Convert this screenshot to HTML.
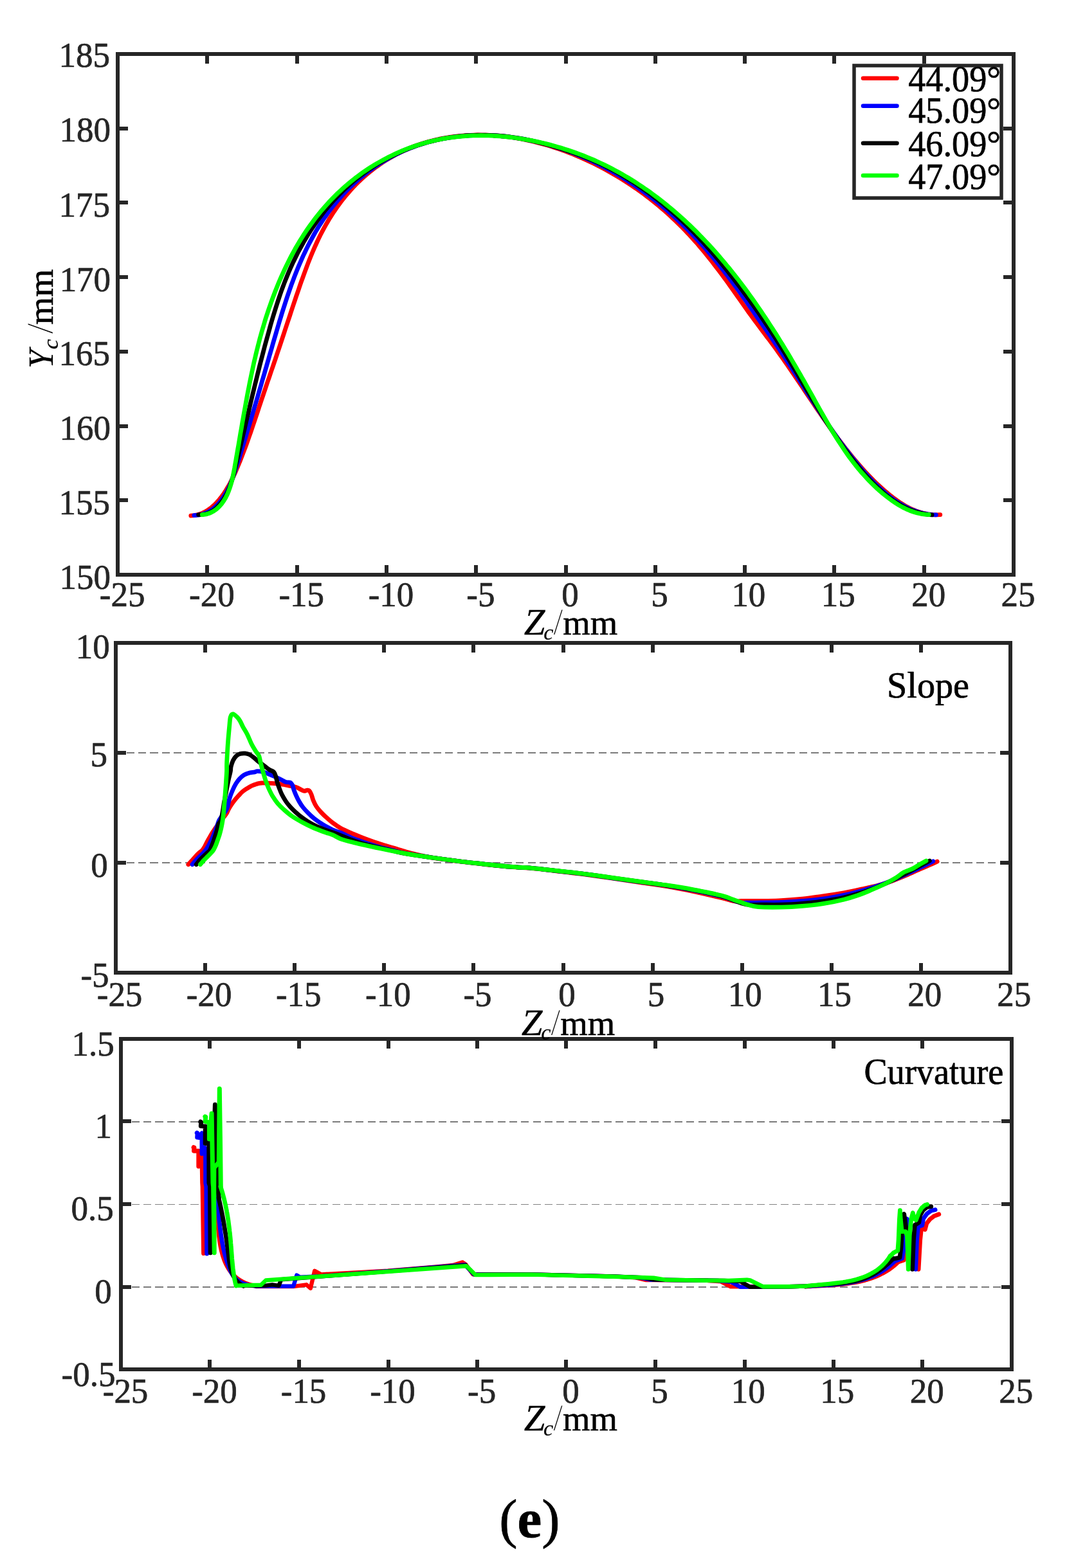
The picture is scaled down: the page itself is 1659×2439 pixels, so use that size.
<!DOCTYPE html>
<html lang="en">
<head>
<meta charset="utf-8">
<title>Figure (e): profile, slope and curvature for 44.09°–47.09°</title>
<style>
html,body{margin:0;padding:0;background:#fff;}
body{width:1659px;height:2439px;overflow:hidden;}
svg{display:block;font-family:'Liberation Serif', 'DejaVu Serif', serif;}
text{white-space:pre;stroke-width:0.7px;stroke-linejoin:round;font-kerning:none;}
</style>
</head>
<body>
<svg width="1659" height="2439" viewBox="0 0 1659 2439">
<rect width="1659" height="2439" fill="#fff"/>
<g id="plot1">
<g class="curve c44_09" fill="none" stroke="#ff0000" stroke-linejoin="round" stroke-linecap="round">
<path d="M296.8 802.2L302.9 801.6L308.7 800.3L314.1 798.4L319.3 795.9L324.1 792.8L328.7 789.4L333.1 785.5L337.2 781.3L341.1 776.9L344.7 772.2L348.2 767.4L351.5 762.3L354.6 757.1L357.6 751.8L360.4 746.3L363.1 740.7L365.7 735.1L368.1 729.4L370.5 723.7L372.9 718.0L375.1 712.3L377.3 706.6L379.5 700.9L381.6 695.2L383.7 689.5L385.7 683.8L387.7 678.2L389.7 672.5L391.6 666.9L393.5 661.2L395.4 655.6L397.3 649.9L399.2 644.3L401.1 638.7L402.9 633.0L404.8 627.4L406.7 621.7L408.6 616.1L410.5 610.4L412.4 604.8L414.3 599.1L416.2 593.5L418.2 587.8L420.1 582.1L422.0 576.5L424.0 570.8L425.9 565.1L427.9 559.4L429.8 553.6L431.7 547.9L433.7 542.2L435.6 536.4L437.5 530.7L439.4 524.9L441.3 519.1L443.2 513.3L445.1 507.5L447.0 501.7L449.0 495.9L450.9 490.1L452.8 484.3L454.7 478.5L456.6 472.7L458.6 466.9L460.5 461.2L462.5 455.4L464.5 449.6L466.4 443.9L468.4 438.2L470.5 432.5L472.5 426.8L474.6 421.1L476.7 415.5L478.8 409.9L481.0 404.3L483.2 398.7L485.5 393.2L487.9 387.7L490.3 382.2L492.8 376.8L495.3 371.4L497.9 366.0L500.7 360.7L503.5 355.4L506.4 350.2L509.4 345.0L512.4 339.8L515.6 334.8L518.9 329.7L522.3 324.8L525.7 319.9L529.3 315.0L532.9 310.3L536.7 305.6L540.6 301.0L544.5 296.5L548.6 292.0L552.7 287.7L557.0 283.4L561.3 279.2L565.8 275.2L570.4 271.2L575.0 267.3L579.8 263.6L584.6 259.9L589.5 256.4L594.5 253.0L599.6 249.7L604.8 246.5L610.1 243.5L615.4 240.5L620.7 237.8L626.2 235.1L631.7 232.6L637.2 230.3L642.8 228.0L648.5 225.9L654.2 224.0L660.0 222.2L665.7 220.5L671.6 219.0L677.4 217.5L683.3 216.2L689.3 215.1L695.2 214.0L701.2 213.1L707.2 212.3L713.2 211.7L719.2 211.1L725.3 210.7L731.3 210.3L737.4 210.1L743.4 210.0L749.5 210.1L755.6 210.2L761.6 210.4L767.7 210.8L773.7 211.2L779.7 211.8L785.7 212.4L791.7 213.2L797.7 214.0L803.6 215.0L809.6 216.0L815.5 217.1L821.4 218.4L827.3 219.7L833.1 221.1L839.0 222.6L844.8 224.2L850.6 225.8L856.4 227.6L862.1 229.4L867.8 231.3L873.5 233.3L879.2 235.4L884.8 237.5L890.4 239.7L896.0 242.0L901.5 244.4L907.1 246.8L912.6 249.3L918.0 251.9L923.5 254.5L928.8 257.2L934.2 260.0L939.5 262.8L944.8 265.7L950.1 268.7L955.3 271.7L960.5 274.8L965.6 277.9L970.7 281.1L975.8 284.4L980.8 287.7L985.8 291.1L990.8 294.5L995.7 298.0L1000.6 301.6L1005.4 305.2L1010.2 308.9L1014.9 312.6L1019.6 316.4L1024.2 320.2L1028.8 324.1L1033.4 328.0L1037.9 332.0L1042.3 336.1L1046.7 340.2L1051.1 344.3L1055.4 348.5L1059.7 352.7L1063.9 357.0L1068.0 361.4L1072.1 365.7L1076.2 370.2L1080.2 374.6L1084.2 379.1L1088.1 383.7L1092.0 388.3L1095.8 392.9L1099.6 397.6L1103.4 402.3L1107.1 407.0L1110.8 411.8L1114.5 416.6L1118.2 421.4L1121.8 426.3L1125.4 431.2L1129.0 436.1L1132.6 441.1L1136.1 446.1L1139.7 451.1L1143.2 456.1L1146.7 461.1L1150.3 466.1L1153.8 471.1L1157.3 476.1L1160.8 481.0L1164.3 486.0L1167.8 490.8L1171.4 495.7L1174.9 500.5L1178.5 505.2L1182.0 510.0L1185.5 514.7L1189.1 519.4L1192.6 524.1L1196.2 528.8L1199.7 533.6L1203.2 538.3L1206.7 543.1L1210.2 547.9L1213.6 552.7L1217.1 557.6L1220.5 562.5L1223.9 567.4L1227.3 572.4L1230.7 577.4L1234.1 582.3L1237.5 587.4L1240.9 592.4L1244.3 597.4L1247.7 602.4L1251.1 607.5L1254.5 612.6L1257.9 617.6L1261.3 622.7L1264.7 627.7L1268.1 632.8L1271.5 637.8L1275.0 642.9L1278.4 647.9L1281.9 652.9L1285.4 657.9L1288.9 662.9L1292.5 667.8L1296.0 672.8L1299.6 677.7L1303.2 682.5L1306.9 687.4L1310.6 692.2L1314.3 697.0L1318.0 701.7L1321.8 706.4L1325.6 711.1L1329.4 715.7L1333.3 720.3L1337.2 724.8L1341.2 729.3L1345.2 733.7L1349.3 738.1L1353.4 742.4L1357.6 746.7L1361.9 750.9L1366.3 755.0L1370.7 759.0L1375.2 763.0L1379.8 766.9L1384.4 770.8L1389.2 774.5L1394.1 778.1L1399.1 781.5L1404.1 784.7L1409.3 787.8L1414.6 790.5L1420.1 793.0L1425.6 795.3L1431.3 797.1L1437.1 798.7L1443.1 799.8L1449.1 800.6L1455.4 800.9L1461.8 800.7" stroke-width="6.8"/>
</g>
<g class="curve c45_09" fill="none" stroke="#0000ff" stroke-linejoin="round" stroke-linecap="round">
<path d="M301.8 801.6L308.5 801.1L314.7 799.8L320.4 797.8L325.6 795.2L330.5 792.0L334.9 788.3L339.0 784.2L342.8 779.8L346.2 775.1L349.4 770.2L352.3 765.1L355.0 759.9L357.5 754.4L359.8 748.8L361.9 743.1L364.0 737.3L365.9 731.5L367.8 725.6L369.6 719.7L371.5 713.9L373.3 708.0L375.1 702.2L376.9 696.3L378.6 690.5L380.4 684.7L382.2 678.9L383.9 673.1L385.6 667.4L387.4 661.6L389.1 655.8L390.8 650.1L392.5 644.3L394.2 638.6L395.9 632.8L397.6 627.1L399.3 621.4L401.0 615.6L402.6 609.9L404.3 604.2L406.0 598.4L407.6 592.7L409.3 587.0L411.0 581.2L412.6 575.5L414.3 569.7L415.9 564.0L417.6 558.2L419.2 552.5L420.9 546.7L422.6 540.9L424.2 535.1L425.9 529.3L427.6 523.5L429.3 517.7L431.0 511.9L432.7 506.1L434.4 500.3L436.2 494.5L437.9 488.7L439.7 482.9L441.6 477.1L443.4 471.4L445.3 465.6L447.2 459.9L449.2 454.1L451.2 448.4L453.2 442.7L455.3 437.1L457.4 431.4L459.6 425.8L461.8 420.2L464.1 414.6L466.5 409.1L468.9 403.6L471.3 398.1L473.9 392.7L476.5 387.2L479.1 381.9L481.9 376.6L484.7 371.3L487.6 366.0L490.5 360.9L493.6 355.7L496.7 350.6L499.9 345.6L503.2 340.6L506.7 335.7L510.1 330.8L513.7 326.0L517.4 321.2L521.2 316.5L525.0 311.9L529.0 307.4L533.0 302.9L537.2 298.5L541.4 294.2L545.7 289.9L550.1 285.8L554.6 281.7L559.2 277.7L563.8 273.9L568.6 270.1L573.4 266.4L578.4 262.8L583.4 259.3L588.4 255.9L593.6 252.7L598.8 249.5L604.0 246.5L609.4 243.6L614.7 240.8L620.1 238.1L625.6 235.5L631.1 233.1L636.7 230.8L642.3 228.7L647.9 226.6L653.5 224.7L659.2 222.9L665.0 221.3L670.7 219.7L676.5 218.3L682.3 217.0L688.1 215.8L693.9 214.8L699.8 213.8L705.7 213.0L711.6 212.3L717.5 211.6L723.5 211.2L729.4 210.8L735.4 210.5L741.4 210.3L747.3 210.3L753.3 210.3L759.3 210.4L765.3 210.7L771.3 211.0L777.3 211.5L783.3 212.0L789.3 212.7L795.3 213.4L801.3 214.3L807.3 215.2L813.2 216.2L819.2 217.4L825.1 218.6L831.1 219.9L837.0 221.3L842.9 222.7L848.8 224.3L854.6 225.9L860.5 227.7L866.3 229.5L872.1 231.4L877.9 233.3L883.6 235.4L889.3 237.5L895.0 239.7L900.6 242.0L906.2 244.3L911.8 246.7L917.3 249.2L922.8 251.8L928.3 254.4L933.7 257.1L939.1 259.9L944.4 262.7L949.7 265.6L955.0 268.6L960.2 271.6L965.3 274.7L970.5 277.8L975.5 281.0L980.6 284.3L985.6 287.6L990.5 291.0L995.5 294.4L1000.3 297.9L1005.2 301.5L1010.0 305.1L1014.7 308.7L1019.4 312.4L1024.1 316.2L1028.7 320.0L1033.3 323.8L1037.8 327.8L1042.3 331.7L1046.8 335.7L1051.2 339.8L1055.6 343.9L1059.9 348.0L1064.2 352.2L1068.5 356.4L1072.7 360.7L1076.9 365.0L1081.0 369.3L1085.1 373.7L1089.1 378.1L1093.1 382.6L1097.1 387.1L1101.0 391.6L1104.9 396.2L1108.8 400.8L1112.6 405.4L1116.4 410.0L1120.1 414.7L1123.8 419.4L1127.5 424.2L1131.2 428.9L1134.8 433.7L1138.4 438.6L1142.0 443.4L1145.6 448.2L1149.1 453.1L1152.6 458.0L1156.1 462.9L1159.6 467.9L1163.0 472.8L1166.5 477.8L1170.0 482.7L1173.4 487.7L1176.9 492.7L1180.4 497.7L1183.9 502.8L1187.4 507.8L1190.9 512.8L1194.4 517.9L1197.9 522.9L1201.3 528.0L1204.8 533.0L1208.2 538.1L1211.6 543.1L1215.0 548.2L1218.3 553.2L1221.7 558.3L1224.9 563.3L1228.2 568.4L1231.5 573.4L1234.7 578.4L1237.9 583.5L1241.1 588.5L1244.3 593.5L1247.5 598.6L1250.7 603.6L1253.8 608.6L1257.0 613.6L1260.2 618.6L1263.4 623.6L1266.6 628.5L1269.8 633.5L1273.0 638.5L1276.3 643.4L1279.5 648.4L1282.8 653.3L1286.1 658.2L1289.5 663.1L1292.8 668.0L1296.2 672.9L1299.7 677.8L1303.1 682.6L1306.6 687.5L1310.2 692.3L1313.8 697.1L1317.4 701.9L1321.1 706.7L1324.9 711.5L1328.7 716.2L1332.5 721.0L1336.4 725.7L1340.4 730.4L1344.5 735.0L1348.6 739.6L1352.8 744.1L1357.0 748.6L1361.4 753.0L1365.8 757.2L1370.3 761.4L1374.9 765.4L1379.5 769.3L1384.3 773.1L1389.1 776.7L1394.1 780.1L1399.1 783.3L1404.2 786.3L1409.5 789.0L1414.8 791.6L1420.3 793.8L1425.8 795.8L1431.5 797.5L1437.3 798.9L1443.2 799.9L1449.2 800.6L1455.4 800.9" stroke-width="6.8"/>
</g>
<g class="curve c46_09" fill="none" stroke="#000000" stroke-linejoin="round" stroke-linecap="round">
<path d="M308.6 800.6L315.2 800.3L321.2 799.0L326.7 796.8L331.7 793.9L336.2 790.3L340.3 786.2L344.0 781.8L347.3 777.1L350.3 772.1L353.0 767.0L355.4 761.6L357.6 756.0L359.6 750.3L361.4 744.5L363.1 738.6L364.6 732.7L366.1 726.7L367.6 720.6L369.0 714.6L370.4 708.6L371.8 702.7L373.2 696.7L374.6 690.8L376.0 684.8L377.4 678.9L378.8 673.0L380.2 667.1L381.5 661.2L382.9 655.3L384.3 649.5L385.7 643.6L387.1 637.7L388.4 631.9L389.8 626.1L391.2 620.2L392.6 614.4L394.0 608.6L395.4 602.8L396.8 597.0L398.3 591.1L399.7 585.3L401.1 579.5L402.6 573.7L404.0 567.9L405.5 562.2L407.0 556.4L408.5 550.6L410.0 544.8L411.5 539.0L413.1 533.2L414.7 527.4L416.3 521.6L417.9 515.8L419.5 510.0L421.1 504.2L422.8 498.4L424.5 492.6L426.3 486.8L428.1 481.0L429.9 475.2L431.8 469.4L433.7 463.7L435.6 458.0L437.6 452.2L439.7 446.5L441.8 440.9L444.0 435.2L446.3 429.6L448.6 424.0L451.0 418.4L453.5 412.9L456.0 407.4L458.7 401.9L461.4 396.5L464.1 391.1L467.0 385.8L469.9 380.5L472.9 375.2L476.0 370.0L479.1 364.8L482.3 359.7L485.6 354.7L489.0 349.6L492.4 344.7L496.0 339.8L499.6 335.0L503.3 330.2L507.0 325.5L510.9 320.9L514.8 316.3L518.8 311.8L522.8 307.4L527.0 303.1L531.2 298.8L535.5 294.6L539.9 290.5L544.4 286.5L549.0 282.5L553.6 278.7L558.3 274.9L563.1 271.3L568.0 267.7L572.9 264.2L578.0 260.8L583.1 257.5L588.2 254.3L593.5 251.2L598.7 248.2L604.1 245.3L609.5 242.6L614.9 239.9L620.4 237.4L626.0 234.9L631.5 232.6L637.1 230.4L642.8 228.3L648.4 226.3L654.2 224.5L659.9 222.7L665.6 221.1L671.4 219.6L677.2 218.2L683.1 216.9L688.9 215.7L694.8 214.7L700.7 213.7L706.6 212.9L712.6 212.2L718.5 211.6L724.5 211.0L730.4 210.7L736.4 210.4L742.4 210.2L748.4 210.1L754.4 210.2L760.4 210.3L766.4 210.6L772.4 211.0L778.5 211.5L784.5 212.0L790.5 212.7L796.5 213.5L802.5 214.4L808.5 215.4L814.4 216.4L820.4 217.6L826.4 218.8L832.3 220.2L838.2 221.6L844.2 223.1L850.1 224.6L855.9 226.3L861.8 228.0L867.6 229.7L873.4 231.6L879.2 233.5L885.0 235.4L890.7 237.4L896.4 239.5L902.1 241.6L907.7 243.8L913.3 246.0L918.9 248.4L924.4 250.8L929.9 253.2L935.4 255.8L940.8 258.4L946.1 261.2L951.5 263.9L956.8 266.8L962.0 269.7L967.2 272.8L972.4 275.8L977.6 279.0L982.6 282.2L987.7 285.5L992.7 288.8L997.7 292.2L1002.6 295.7L1007.5 299.2L1012.4 302.8L1017.2 306.5L1021.9 310.2L1026.6 313.9L1031.3 317.7L1036.0 321.6L1040.6 325.5L1045.1 329.5L1049.6 333.5L1054.1 337.5L1058.5 341.6L1062.9 345.8L1067.2 349.9L1071.5 354.2L1075.7 358.4L1079.9 362.7L1084.1 367.0L1088.2 371.4L1092.3 375.8L1096.3 380.2L1100.3 384.7L1104.3 389.2L1108.2 393.7L1112.1 398.3L1116.0 402.9L1119.8 407.5L1123.6 412.2L1127.4 416.8L1131.1 421.5L1134.9 426.3L1138.6 431.0L1142.3 435.8L1145.9 440.6L1149.6 445.4L1153.2 450.3L1156.8 455.1L1160.4 460.0L1164.0 464.9L1167.5 469.9L1171.1 474.8L1174.6 479.8L1178.1 484.7L1181.5 489.7L1185.0 494.8L1188.4 499.8L1191.8 504.8L1195.2 509.9L1198.5 514.9L1201.9 520.0L1205.2 525.1L1208.4 530.2L1211.7 535.3L1214.9 540.5L1218.1 545.6L1221.3 550.7L1224.4 555.9L1227.5 561.0L1230.7 566.2L1233.7 571.3L1236.8 576.5L1239.9 581.6L1242.9 586.8L1246.0 591.9L1249.0 597.1L1252.1 602.2L1255.1 607.4L1258.2 612.5L1261.3 617.7L1264.3 622.8L1267.4 627.9L1270.5 633.0L1273.6 638.1L1276.8 643.2L1279.9 648.3L1283.1 653.4L1286.3 658.4L1289.6 663.5L1292.8 668.5L1296.1 673.5L1299.5 678.5L1302.9 683.4L1306.3 688.4L1309.8 693.3L1313.3 698.2L1316.9 703.0L1320.5 707.9L1324.2 712.7L1328.0 717.5L1331.8 722.3L1335.6 727.0L1339.6 731.7L1343.6 736.4L1347.7 741.0L1351.8 745.5L1356.0 749.9L1360.4 754.3L1364.7 758.5L1369.2 762.6L1373.8 766.6L1378.4 770.5L1383.2 774.2L1388.0 777.7L1393.0 781.1L1398.0 784.2L1403.2 787.2L1408.5 789.9L1413.9 792.3L1419.4 794.5L1425.0 796.4L1430.8 798.0L1436.8 799.3L1442.8 800.3L1449.1 800.9" stroke-width="6.8"/>
</g>
<g class="curve c47_09" fill="none" stroke="#00ff00" stroke-linejoin="round" stroke-linecap="round">
<path d="M314.4 800.7L320.8 799.8L326.7 797.9L331.9 795.3L336.6 792.0L340.8 788.1L344.6 783.7L347.9 779.1L350.8 774.2L353.4 769.0L355.6 763.6L357.6 758.1L359.3 752.3L360.9 746.5L362.2 740.5L363.4 734.5L364.6 728.4L365.6 722.4L366.7 716.3L367.7 710.2L368.8 704.1L369.8 698.1L370.9 692.1L371.9 686.0L372.9 680.0L373.9 674.0L375.0 668.1L376.0 662.1L377.0 656.1L378.1 650.2L379.1 644.3L380.2 638.3L381.3 632.4L382.3 626.5L383.4 620.6L384.5 614.7L385.6 608.9L386.8 603.0L387.9 597.1L389.1 591.3L390.3 585.4L391.5 579.6L392.8 573.8L394.0 567.9L395.3 562.1L396.7 556.3L398.0 550.5L399.4 544.7L400.9 538.8L402.4 533.0L403.9 527.2L405.5 521.4L407.1 515.6L408.8 509.9L410.5 504.1L412.2 498.3L414.0 492.5L415.9 486.8L417.8 481.0L419.8 475.3L421.8 469.6L423.9 463.9L426.0 458.2L428.2 452.5L430.4 446.9L432.7 441.3L435.1 435.7L437.5 430.1L440.0 424.6L442.5 419.1L445.1 413.6L447.8 408.2L450.5 402.8L453.3 397.4L456.2 392.1L459.1 386.8L462.1 381.6L465.2 376.4L468.4 371.3L471.6 366.2L474.9 361.2L478.2 356.2L481.7 351.2L485.2 346.4L488.8 341.5L492.4 336.8L496.2 332.1L500.0 327.4L503.9 322.9L507.9 318.4L512.0 313.9L516.1 309.6L520.3 305.3L524.6 301.0L529.0 296.9L533.5 292.8L538.0 288.8L542.6 284.9L547.2 281.1L552.0 277.3L556.8 273.7L561.7 270.1L566.6 266.6L571.7 263.2L576.7 259.9L581.9 256.7L587.1 253.6L592.4 250.6L597.7 247.7L603.0 244.9L608.5 242.2L613.9 239.6L619.4 237.1L625.0 234.7L630.6 232.4L636.2 230.2L641.9 228.2L647.6 226.2L653.3 224.4L659.1 222.7L664.9 221.1L670.7 219.6L676.5 218.3L682.3 217.1L688.2 215.9L694.1 214.9L700.0 214.0L705.9 213.3L711.8 212.6L717.8 212.0L723.7 211.6L729.7 211.2L735.6 210.9L741.6 210.8L747.6 210.7L753.6 210.8L759.6 210.9L765.6 211.2L771.6 211.5L777.6 211.9L783.6 212.4L789.6 213.0L795.6 213.7L801.5 214.5L807.5 215.3L813.5 216.3L819.4 217.3L825.4 218.4L831.3 219.6L837.2 220.9L843.2 222.2L849.0 223.6L854.9 225.1L860.8 226.7L866.6 228.4L872.4 230.1L878.2 231.9L884.0 233.8L889.7 235.7L895.4 237.8L901.1 239.9L906.8 242.0L912.4 244.3L918.0 246.6L923.6 249.0L929.1 251.5L934.6 254.0L940.1 256.6L945.5 259.3L950.9 262.1L956.2 264.9L961.5 267.8L966.8 270.7L972.0 273.8L977.1 276.8L982.3 280.0L987.4 283.2L992.4 286.5L997.5 289.8L1002.4 293.2L1007.4 296.6L1012.3 300.1L1017.1 303.7L1021.9 307.3L1026.7 311.0L1031.4 314.7L1036.1 318.5L1040.8 322.3L1045.4 326.2L1050.0 330.1L1054.5 334.0L1059.0 338.1L1063.5 342.1L1067.9 346.2L1072.3 350.3L1076.6 354.5L1080.9 358.7L1085.1 363.0L1089.4 367.3L1093.5 371.6L1097.7 376.0L1101.8 380.4L1105.9 384.8L1109.9 389.3L1113.9 393.8L1117.8 398.3L1121.7 402.9L1125.6 407.4L1129.4 412.1L1133.3 416.7L1137.0 421.4L1140.8 426.1L1144.5 430.8L1148.2 435.5L1151.8 440.3L1155.4 445.1L1159.0 449.9L1162.6 454.8L1166.1 459.7L1169.6 464.6L1173.1 469.5L1176.5 474.4L1179.9 479.4L1183.3 484.3L1186.7 489.3L1190.1 494.4L1193.4 499.4L1196.7 504.5L1200.0 509.5L1203.2 514.6L1206.5 519.7L1209.7 524.8L1212.9 530.0L1216.1 535.1L1219.2 540.3L1222.4 545.5L1225.5 550.6L1228.6 555.8L1231.7 561.1L1234.7 566.3L1237.8 571.5L1240.8 576.8L1243.9 582.0L1246.9 587.3L1249.9 592.5L1252.9 597.8L1255.8 603.1L1258.8 608.4L1261.8 613.7L1264.7 619.0L1267.6 624.3L1270.6 629.6L1273.5 634.9L1276.5 640.1L1279.5 645.4L1282.5 650.6L1285.5 655.9L1288.5 661.1L1291.5 666.3L1294.6 671.4L1297.8 676.6L1300.9 681.6L1304.1 686.7L1307.4 691.7L1310.7 696.7L1314.0 701.6L1317.4 706.5L1320.9 711.4L1324.5 716.1L1328.1 720.9L1331.8 725.5L1335.5 730.1L1339.4 734.7L1343.3 739.1L1347.3 743.5L1351.4 747.9L1355.6 752.1L1359.9 756.3L1364.3 760.4L1368.8 764.4L1373.4 768.3L1378.2 772.1L1383.0 775.8L1388.0 779.4L1393.1 782.8L1398.3 786.1L1403.6 789.1L1409.1 791.8L1414.6 794.2L1420.3 796.3L1426.1 798.0L1432.0 799.3L1438.0 800.1L1444.2 800.5" stroke-width="6.8"/>
</g>
<path d="M322 894V879.2M322 84V98.8M462 894V879.2M462 84V98.8M601 894V879.2M601 84V98.8M740 894V879.2M740 84V98.8M880 894V879.2M880 84V98.8M1019 894V879.2M1019 84V98.8M1158 894V879.2M1158 84V98.8M1297 894V879.2M1297 84V98.8M1437 894V879.2M1437 84V98.8M183 778H199.2M1576 778H1559.8M183 663H199.2M1576 663H1559.8M183 547H199.2M1576 547H1559.8M183 431H199.2M1576 431H1559.8M183 315H199.2M1576 315H1559.8M183 200H199.2M1576 200H1559.8" stroke="#262626" stroke-width="6" fill="none" shape-rendering="crispEdges"/>
<rect x="183" y="84" width="1393" height="810" fill="none" stroke="#262626" stroke-width="6" shape-rendering="crispEdges"/>
<text id="t1" transform="translate(154.83 943.41) scale(0.9550 1)" font-size="55.5" fill="#262626" stroke="#262626">-25</text>
<text id="t2" transform="translate(294.10 943.41) scale(0.9550 1)" font-size="55.5" fill="#262626" stroke="#262626">-20</text>
<text id="t3" transform="translate(433.43 943.41) scale(0.9550 1)" font-size="55.5" fill="#262626" stroke="#262626">-15</text>
<text id="t4" transform="translate(572.70 943.41) scale(0.9550 1)" font-size="55.5" fill="#262626" stroke="#262626">-10</text>
<text id="t5" transform="translate(725.28 943.41) scale(0.9550 1)" font-size="55.5" fill="#262626" stroke="#262626">-5</text>
<text id="t6" transform="translate(873.35 943.41) scale(0.9550 1)" font-size="55.5" fill="#262626" stroke="#262626">0</text>
<text id="t7" transform="translate(1012.14 943.41) scale(0.9550 1)" font-size="55.5" fill="#262626" stroke="#262626">5</text>
<text id="t8" transform="translate(1137.38 943.41) scale(0.9550 1)" font-size="55.5" fill="#262626" stroke="#262626">10</text>
<text id="t9" transform="translate(1276.70 943.41) scale(0.9550 1)" font-size="55.5" fill="#262626" stroke="#262626">15</text>
<text id="t10" transform="translate(1417.14 943.41) scale(0.9550 1)" font-size="55.5" fill="#262626" stroke="#262626">20</text>
<text id="t11" transform="translate(1556.47 943.41) scale(0.9550 1)" font-size="55.5" fill="#262626" stroke="#262626">25</text>
<text id="t12" transform="translate(92.43 916.41) scale(0.9550 1)" font-size="55.5" fill="#262626" stroke="#262626">150</text>
<text id="t13" transform="translate(91.45 799.51) scale(0.9550 1)" font-size="55.5" fill="#262626" stroke="#262626">155</text>
<text id="t14" transform="translate(92.43 684.01) scale(0.9550 1)" font-size="55.5" fill="#262626" stroke="#262626">160</text>
<text id="t15" transform="translate(91.45 568.11) scale(0.9550 1)" font-size="55.5" fill="#262626" stroke="#262626">165</text>
<text id="t16" transform="translate(92.63 452.51) scale(0.9550 1)" font-size="55.5" fill="#262626" stroke="#262626">170</text>
<text id="t17" transform="translate(91.45 336.51) scale(0.9550 1)" font-size="55.5" fill="#262626" stroke="#262626">175</text>
<text id="t18" transform="translate(92.43 220.31) scale(0.9550 1)" font-size="55.5" fill="#262626" stroke="#262626">180</text>
<text id="t19" transform="translate(91.45 104.21) scale(0.9550 1)" font-size="55.5" fill="#262626" stroke="#262626">185</text>
</g>
<g id="plot2">
<line x1="180" y1="1342" x2="1571" y2="1342" stroke="#7a7a7a" stroke-width="2" stroke-dasharray="12.1 6.25" stroke-dashoffset="1.65" shape-rendering="crispEdges"/>
<line x1="180" y1="1171" x2="1571" y2="1171" stroke="#7a7a7a" stroke-width="2" stroke-dasharray="12.1 6.25" stroke-dashoffset="1.65" shape-rendering="crispEdges"/>
<g class="curve c44_09" fill="none" stroke="#ff0000" stroke-linejoin="round" stroke-linecap="round">
<path d="M292.8 1344.7C293.9 1343.5 297.3 1339.9 299.4 1337.6C301.4 1335.3 303.4 1332.8 305.1 1330.9C306.8 1329.0 308.2 1327.6 309.8 1326.2C311.4 1324.8 313.2 1324.0 314.6 1322.4C316.0 1320.8 317.1 1318.9 318.4 1316.7C319.7 1314.5 320.9 1311.5 322.2 1309.1C323.5 1306.7 324.7 1304.7 326.0 1302.5C327.3 1300.3 327.5 1299.4 329.8 1295.8C332.1 1292.2 336.4 1285.9 340.0 1281.0C343.6 1276.1 349.0 1270.1 351.6 1266.4C354.2 1262.7 354.0 1261.3 355.4 1258.8C356.8 1256.3 358.5 1253.6 360.1 1251.2C361.7 1248.8 363.1 1246.8 364.9 1244.6C366.6 1242.4 368.6 1240.2 370.6 1238.0C372.7 1235.8 375.0 1233.2 377.2 1231.3C379.4 1229.4 381.5 1228.1 383.9 1226.6C386.3 1225.1 388.9 1223.5 391.4 1222.3C393.9 1221.1 396.5 1220.1 399.0 1219.4C401.5 1218.7 402.7 1218.2 406.6 1218.0C410.5 1217.8 418.1 1218.2 422.3 1218.4C426.5 1218.6 428.6 1218.6 431.8 1218.9C435.0 1219.2 438.1 1219.9 441.3 1220.5C444.5 1221.1 447.6 1221.8 450.8 1222.5C454.0 1223.2 457.4 1223.4 460.3 1224.4C463.2 1225.4 466.1 1227.4 468.2 1228.4C470.3 1229.4 471.3 1230.3 472.9 1230.4C474.5 1230.5 476.4 1229.3 477.7 1229.2C479.0 1229.1 479.8 1228.9 480.8 1229.9C481.9 1231.0 482.9 1233.0 484.0 1235.5C485.1 1238.0 485.8 1241.8 487.1 1245.0C488.4 1248.2 490.0 1251.6 491.9 1254.5C493.8 1257.4 495.8 1259.8 498.2 1262.4C500.6 1265.0 502.9 1267.4 506.1 1270.3C509.3 1273.2 513.2 1276.8 517.2 1279.8C521.2 1282.8 524.7 1285.5 530.2 1288.5C535.8 1291.5 543.8 1294.7 550.5 1297.6C557.2 1300.5 564.0 1303.2 570.7 1305.7C577.5 1308.2 584.2 1310.6 591.0 1312.8C597.8 1315.0 604.5 1316.8 611.2 1318.8C618.0 1320.8 624.8 1323.0 631.5 1324.9C638.2 1326.8 645.0 1328.5 651.7 1330.0C658.4 1331.5 661.8 1332.6 671.9 1334.2C682.0 1335.8 698.9 1338.0 712.4 1339.7C725.9 1341.4 739.4 1342.8 752.9 1344.3C766.4 1345.8 780.5 1347.3 793.4 1348.4C806.2 1349.5 818.4 1349.8 830.0 1350.8C841.6 1351.8 850.3 1353.0 863.0 1354.5C875.7 1356.0 891.7 1357.8 906.0 1359.7C920.3 1361.6 934.7 1363.6 949.0 1365.7C963.3 1367.8 977.6 1370.1 992.0 1372.2C1006.4 1374.3 1020.7 1376.0 1035.1 1378.4C1049.4 1380.8 1063.8 1383.6 1078.1 1386.6C1092.4 1389.6 1110.3 1393.9 1121.1 1396.5C1131.8 1399.1 1137.3 1401.2 1142.6 1402.0C1147.9 1402.8 1146.2 1401.5 1152.9 1401.4C1159.6 1401.3 1173.3 1401.5 1183.0 1401.4C1192.7 1401.3 1200.2 1401.3 1211.0 1400.8C1221.8 1400.3 1236.0 1399.3 1247.5 1398.2C1259.0 1397.1 1269.0 1395.5 1279.8 1393.9C1290.5 1392.4 1301.2 1390.9 1312.0 1388.9C1322.8 1386.9 1335.3 1384.0 1344.3 1382.0C1353.3 1380.0 1358.6 1379.1 1365.8 1377.1C1373.0 1375.1 1380.1 1372.8 1387.3 1370.2C1394.5 1367.6 1401.6 1364.6 1408.8 1361.6C1416.0 1358.5 1424.2 1354.6 1430.3 1351.9C1436.4 1349.2 1440.9 1347.5 1445.4 1345.5C1449.9 1343.5 1455.2 1341.0 1457.2 1340.1" stroke-width="6.8"/>
</g>
<g class="curve c45_09" fill="none" stroke="#0000ff" stroke-linejoin="round" stroke-linecap="round">
<path d="M298.9 1344.7C299.9 1343.5 303.1 1339.7 305.1 1337.6C307.1 1335.5 308.9 1333.8 310.8 1331.9C312.7 1330.0 314.8 1328.1 316.5 1326.2C318.2 1324.3 319.8 1322.5 321.2 1320.5C322.6 1318.5 323.7 1316.3 325.0 1313.9C326.3 1311.5 327.6 1308.8 328.8 1306.3C330.0 1303.8 331.0 1301.4 332.1 1298.7C333.2 1296.0 334.5 1292.8 335.5 1290.1C336.5 1287.4 337.4 1285.0 338.3 1282.5C339.2 1280.0 338.8 1279.0 341.2 1275.0C343.6 1271.0 350.1 1263.4 352.5 1258.8C354.9 1254.2 354.4 1250.9 355.4 1247.4C356.3 1243.9 357.1 1241.2 358.2 1238.0C359.3 1234.8 360.6 1231.7 362.0 1228.5C363.4 1225.3 365.1 1221.8 366.8 1219.0C368.6 1216.2 370.4 1213.6 372.5 1211.4C374.6 1209.2 376.7 1207.2 379.1 1205.7C381.5 1204.2 383.9 1203.2 386.7 1202.4C389.5 1201.6 393.9 1201.4 396.2 1200.9C398.4 1200.4 397.9 1199.6 400.2 1199.6C402.4 1199.6 406.5 1199.9 409.7 1200.7C412.9 1201.5 416.0 1203.3 419.2 1204.6C422.4 1205.9 425.5 1207.1 428.6 1208.6C431.8 1210.0 435.5 1212.0 438.1 1213.3C440.8 1214.6 442.2 1215.8 444.5 1216.5C446.8 1217.2 449.9 1216.5 451.6 1217.3C453.3 1218.1 453.8 1219.2 454.7 1221.2C455.6 1223.2 456.2 1226.6 457.1 1229.2C458.0 1231.8 459.0 1234.2 460.3 1237.1C461.6 1240.0 463.2 1243.3 465.0 1246.5C466.8 1249.7 468.9 1253.0 471.3 1256.0C473.7 1259.0 476.3 1261.8 479.2 1264.7C482.1 1267.6 485.0 1270.5 488.7 1273.4C492.4 1276.3 496.6 1279.2 501.4 1282.1C506.1 1285.0 512.4 1288.6 517.2 1290.8C522.0 1293.0 524.5 1293.2 530.0 1295.5C535.5 1297.8 543.7 1302.0 550.5 1304.7C557.3 1307.4 564.0 1309.5 570.7 1311.7C577.5 1313.9 584.2 1315.9 591.0 1317.8C597.8 1319.7 604.5 1321.2 611.2 1322.9C618.0 1324.6 621.4 1325.9 631.5 1327.7C641.6 1329.5 658.4 1332.0 671.9 1334.0C685.4 1336.0 698.9 1337.8 712.4 1339.5C725.9 1341.2 739.4 1342.6 752.9 1344.1C766.4 1345.5 780.5 1347.1 793.4 1348.2C806.2 1349.3 818.4 1349.6 830.0 1350.6C841.6 1351.6 850.3 1352.9 863.0 1354.3C875.7 1355.7 891.7 1357.4 906.0 1359.2C920.3 1361.0 934.7 1363.3 949.0 1365.3C963.3 1367.3 977.6 1369.3 992.0 1371.3C1006.4 1373.3 1020.7 1375.0 1035.1 1377.3C1049.4 1379.5 1063.8 1382.0 1078.1 1384.8C1092.4 1387.6 1109.1 1391.2 1121.1 1394.3C1133.1 1397.4 1143.5 1401.8 1150.0 1403.5C1156.5 1405.2 1154.5 1404.1 1160.0 1404.2C1165.5 1404.3 1173.8 1404.1 1183.0 1404.0C1192.2 1403.9 1204.5 1403.9 1215.3 1403.5C1226.0 1403.1 1236.8 1402.3 1247.5 1401.4C1258.2 1400.5 1269.0 1399.7 1279.8 1398.2C1290.5 1396.7 1301.2 1394.7 1312.0 1392.4C1322.8 1390.1 1333.5 1387.3 1344.3 1384.2C1355.1 1381.1 1365.8 1377.8 1376.6 1373.7C1387.3 1369.7 1399.8 1363.9 1408.8 1359.9C1417.8 1355.9 1423.3 1353.2 1430.3 1349.8C1437.3 1346.4 1447.4 1341.4 1450.8 1339.7" stroke-width="6.8"/>
</g>
<g class="curve c46_09" fill="none" stroke="#000000" stroke-linejoin="round" stroke-linecap="round">
<path d="M305.1 1344.7C306.1 1343.5 308.9 1339.7 310.8 1337.6C312.7 1335.5 314.7 1333.7 316.5 1331.9C318.3 1330.2 320.1 1328.5 321.7 1327.1C323.3 1325.7 324.8 1325.0 326.0 1323.3C327.2 1321.6 327.9 1319.1 328.8 1316.7C329.8 1314.3 330.8 1311.8 331.7 1309.1C332.6 1306.4 333.6 1303.6 334.5 1300.6C335.4 1297.6 336.5 1294.3 337.4 1291.1C338.3 1287.9 338.7 1284.1 339.7 1281.6C340.7 1279.1 342.3 1279.2 343.4 1275.9C344.5 1272.6 345.5 1266.1 346.3 1261.7C347.1 1257.3 347.6 1253.0 348.2 1249.3C348.8 1245.6 349.4 1243.3 350.1 1239.8C350.8 1236.3 351.4 1232.8 352.2 1228.5C353.0 1224.2 354.0 1219.0 355.0 1214.2C356.0 1209.5 357.6 1203.6 358.3 1200.0C359.0 1196.4 358.5 1195.6 359.1 1192.8C359.8 1190.0 360.9 1186.1 362.2 1183.3C363.5 1180.5 365.1 1178.0 367.0 1176.2C368.9 1174.4 370.9 1173.2 373.3 1172.5C375.7 1171.8 378.8 1171.7 381.2 1171.9C383.6 1172.1 385.4 1172.5 387.5 1173.5C389.6 1174.5 391.8 1176.2 393.9 1177.8C396.0 1179.4 398.1 1181.6 400.2 1183.3C402.3 1185.0 404.4 1186.4 406.5 1188.0C408.6 1189.6 410.7 1191.2 412.8 1192.8C414.9 1194.4 417.1 1196.2 419.2 1197.5C421.3 1198.8 423.9 1199.1 425.5 1200.7C427.1 1202.3 427.7 1204.4 428.6 1207.0C429.5 1209.6 430.1 1213.3 431.0 1216.5C431.9 1219.7 433.0 1222.8 434.2 1226.0C435.4 1229.2 436.4 1232.1 438.1 1235.5C439.8 1238.9 442.4 1243.3 444.5 1246.5C446.6 1249.7 448.4 1251.8 450.8 1254.5C453.2 1257.2 455.5 1259.5 458.7 1262.4C461.9 1265.3 465.3 1268.5 469.8 1271.8C474.3 1275.1 480.3 1279.2 485.6 1282.1C490.9 1285.0 496.1 1287.1 501.4 1289.2C506.7 1291.3 512.4 1293.1 517.2 1294.8C522.0 1296.5 524.5 1297.4 530.0 1299.6C535.5 1301.8 543.7 1305.3 550.5 1307.7C557.3 1310.1 564.0 1312.0 570.7 1313.8C577.5 1315.6 584.2 1317.2 591.0 1318.8C597.8 1320.4 604.5 1322.0 611.2 1323.5C618.0 1325.0 621.4 1326.2 631.5 1327.9C641.6 1329.7 658.4 1332.1 671.9 1334.0C685.4 1335.9 698.9 1337.8 712.4 1339.5C725.9 1341.2 739.4 1342.6 752.9 1344.1C766.4 1345.5 780.5 1347.1 793.4 1348.2C806.2 1349.3 818.4 1349.6 830.0 1350.6C841.6 1351.6 850.3 1352.9 863.0 1354.3C875.7 1355.7 891.7 1357.4 906.0 1359.2C920.3 1361.0 934.7 1363.1 949.0 1365.1C963.3 1367.1 977.6 1369.1 992.0 1371.1C1006.4 1373.1 1020.7 1374.9 1035.1 1377.1C1049.4 1379.3 1063.8 1381.6 1078.1 1384.4C1092.4 1387.2 1108.3 1390.2 1121.1 1393.7C1133.9 1397.2 1147.2 1403.2 1155.0 1405.5C1162.8 1407.8 1163.3 1407.1 1168.0 1407.4C1172.7 1407.7 1175.1 1407.2 1183.0 1407.2C1190.9 1407.2 1204.5 1407.5 1215.3 1407.2C1226.0 1406.9 1236.8 1406.2 1247.5 1405.3C1258.2 1404.4 1269.0 1403.3 1279.8 1401.8C1290.5 1400.2 1301.2 1398.5 1312.0 1396.0C1322.8 1393.5 1333.5 1390.6 1344.3 1387.0C1355.1 1383.4 1365.8 1379.3 1376.6 1374.5C1387.3 1369.7 1399.8 1363.0 1408.8 1358.4C1417.8 1353.8 1424.2 1350.2 1430.3 1347.0C1436.4 1343.8 1442.9 1340.3 1445.4 1339.0" stroke-width="6.8"/>
</g>
<g class="curve c47_09" fill="none" stroke="#00ff00" stroke-linejoin="round" stroke-linecap="round">
<path d="M311.3 1344.7C312.3 1343.5 315.4 1339.7 317.4 1337.6C319.4 1335.5 321.4 1333.7 323.1 1331.9C324.9 1330.2 326.5 1328.7 327.9 1327.1C329.3 1325.5 330.4 1324.5 331.7 1322.4C333.0 1320.4 334.4 1317.3 335.5 1314.8C336.6 1312.3 337.4 1309.9 338.3 1307.2C339.2 1304.5 340.3 1301.6 341.2 1298.7C342.1 1295.8 342.8 1293.1 343.5 1290.1C344.2 1287.1 344.8 1283.8 345.4 1280.6C346.0 1277.4 346.4 1275.2 346.9 1271.2C347.4 1267.2 347.9 1261.7 348.3 1256.9C348.7 1252.2 349.1 1247.4 349.5 1242.7C349.9 1238.0 350.2 1233.2 350.6 1228.5C351.0 1223.8 351.3 1219.0 351.6 1214.2C351.9 1209.5 352.3 1204.9 352.5 1200.0C352.7 1195.1 352.3 1192.7 352.7 1184.9C353.1 1177.1 353.9 1162.5 354.6 1153.3C355.3 1144.1 356.1 1135.8 356.7 1129.5C357.3 1123.2 357.4 1118.5 358.3 1115.3C359.2 1112.1 360.5 1110.6 362.2 1110.6C363.9 1110.6 366.8 1113.5 368.6 1115.3C370.5 1117.1 371.7 1119.0 373.3 1121.6C374.9 1124.2 376.1 1127.7 378.0 1131.1C379.9 1134.5 382.3 1138.0 384.4 1142.2C386.5 1146.4 388.6 1152.2 390.7 1156.4C392.8 1160.6 395.0 1164.3 397.0 1167.5C399.0 1170.7 401.2 1172.5 402.5 1175.4C403.8 1178.3 404.0 1181.2 404.9 1184.9C405.8 1188.6 406.8 1192.8 408.1 1197.5C409.4 1202.2 411.2 1208.5 412.8 1213.3C414.4 1218.0 415.8 1221.8 417.6 1226.0C419.5 1230.2 421.5 1234.6 423.9 1238.6C426.3 1242.5 428.9 1246.3 431.8 1249.7C434.7 1253.1 437.6 1255.9 441.3 1259.2C445.0 1262.5 449.1 1266.2 453.9 1269.5C458.6 1272.8 464.5 1276.1 469.8 1279.0C475.1 1281.9 480.3 1284.5 485.6 1286.9C490.9 1289.3 496.1 1291.2 501.4 1293.2C506.7 1295.2 512.4 1296.7 517.2 1298.7C522.0 1300.7 524.7 1303.1 530.2 1305.1C535.8 1307.1 540.4 1308.2 550.5 1310.7C560.6 1313.2 577.5 1316.9 591.0 1319.8C604.5 1322.7 618.0 1325.5 631.5 1327.9C645.0 1330.3 658.4 1332.1 671.9 1334.0C685.4 1335.9 698.9 1337.8 712.4 1339.5C725.9 1341.2 739.4 1342.6 752.9 1344.1C766.4 1345.5 780.5 1347.1 793.4 1348.2C806.2 1349.3 818.4 1349.6 830.0 1350.6C841.6 1351.6 850.3 1352.7 863.0 1354.1C875.7 1355.5 891.7 1357.2 906.0 1359.0C920.3 1360.8 934.7 1362.8 949.0 1364.8C963.3 1366.8 977.6 1368.9 992.0 1370.9C1006.4 1372.9 1020.7 1374.6 1035.1 1376.7C1049.4 1378.8 1063.8 1381.1 1078.1 1383.8C1092.4 1386.5 1110.8 1390.2 1121.1 1392.8C1131.4 1395.4 1133.3 1396.9 1140.0 1399.2C1146.7 1401.5 1155.0 1404.9 1161.5 1406.8C1168.0 1408.7 1169.7 1409.9 1178.7 1410.6C1187.7 1411.3 1203.8 1411.3 1215.3 1411.1C1226.8 1410.9 1236.8 1410.3 1247.5 1409.4C1258.2 1408.5 1269.0 1407.4 1279.8 1405.7C1290.5 1404.0 1303.0 1401.4 1312.0 1399.2C1321.0 1397.0 1326.3 1395.3 1333.5 1392.8C1340.7 1390.3 1347.9 1387.2 1355.1 1384.2C1362.3 1381.2 1370.1 1377.7 1376.6 1374.5C1383.0 1371.3 1389.1 1367.7 1393.8 1364.8C1398.5 1361.9 1400.2 1359.6 1404.5 1357.3C1408.8 1355.0 1415.3 1353.1 1419.6 1350.9C1423.9 1348.8 1426.9 1346.4 1430.3 1344.4C1433.7 1342.4 1438.4 1339.9 1440.0 1339.0" stroke-width="6.8"/>
</g>
<path d="M319 1513V1498.2M319 1000V1014.8M458 1513V1498.2M458 1000V1014.8M597 1513V1498.2M597 1000V1014.8M736 1513V1498.2M736 1000V1014.8M876 1513V1498.2M876 1000V1014.8M1015 1513V1498.2M1015 1000V1014.8M1154 1513V1498.2M1154 1000V1014.8M1293 1513V1498.2M1293 1000V1014.8M1432 1513V1498.2M1432 1000V1014.8M180 1342H196.2M1571 1342H1554.8M180 1171H196.2M1571 1171H1554.8" stroke="#262626" stroke-width="6" fill="none" shape-rendering="crispEdges"/>
<rect x="180" y="1000" width="1391" height="513" fill="none" stroke="#262626" stroke-width="6" shape-rendering="crispEdges"/>
<text id="t20" transform="translate(150.73 1565.11) scale(0.9550 1)" font-size="55.5" fill="#262626" stroke="#262626">-25</text>
<text id="t21" transform="translate(289.80 1565.11) scale(0.9550 1)" font-size="55.5" fill="#262626" stroke="#262626">-20</text>
<text id="t22" transform="translate(428.93 1565.11) scale(0.9550 1)" font-size="55.5" fill="#262626" stroke="#262626">-15</text>
<text id="t23" transform="translate(568.00 1565.11) scale(0.9550 1)" font-size="55.5" fill="#262626" stroke="#262626">-10</text>
<text id="t24" transform="translate(720.38 1565.11) scale(0.9550 1)" font-size="55.5" fill="#262626" stroke="#262626">-5</text>
<text id="t25" transform="translate(868.25 1565.11) scale(0.9550 1)" font-size="55.5" fill="#262626" stroke="#262626">0</text>
<text id="t26" transform="translate(1006.84 1565.11) scale(0.9550 1)" font-size="55.5" fill="#262626" stroke="#262626">5</text>
<text id="t27" transform="translate(1131.88 1565.11) scale(0.9550 1)" font-size="55.5" fill="#262626" stroke="#262626">10</text>
<text id="t28" transform="translate(1271.00 1565.11) scale(0.9550 1)" font-size="55.5" fill="#262626" stroke="#262626">15</text>
<text id="t29" transform="translate(1411.24 1565.11) scale(0.9550 1)" font-size="55.5" fill="#262626" stroke="#262626">20</text>
<text id="t30" transform="translate(1550.37 1565.11) scale(0.9550 1)" font-size="55.5" fill="#262626" stroke="#262626">25</text>
<text id="t31" transform="translate(125.38 1535.41) scale(0.9550 1)" font-size="55.5" fill="#262626" stroke="#262626">-5</text>
<text id="t32" transform="translate(141.25 1363.71) scale(0.9550 1)" font-size="55.5" fill="#262626" stroke="#262626">0</text>
<text id="t33" transform="translate(140.54 1192.41) scale(0.9550 1)" font-size="55.5" fill="#262626" stroke="#262626">5</text>
<text id="t34" transform="translate(117.78 1023.81) scale(0.9550 1)" font-size="55.5" fill="#262626" stroke="#262626">10</text>
</g>
<g id="plot3">
<line x1="188" y1="2002" x2="1573" y2="2002" stroke="#7a7a7a" stroke-width="2" stroke-dasharray="12.1 6.25" stroke-dashoffset="1.65" shape-rendering="crispEdges"/>
<line x1="188" y1="1873.5" x2="1573" y2="1873.5" stroke="#808080" stroke-width="1" stroke-dasharray="12.1 6.25" stroke-dashoffset="1.65" shape-rendering="crispEdges"/>
<line x1="188" y1="1744.8" x2="1573" y2="1744.8" stroke="#7a7a7a" stroke-width="2" stroke-dasharray="12.1 6.25" stroke-dashoffset="1.65" shape-rendering="crispEdges"/>
<g class="curve c44_09" fill="none" stroke="#ff0000" stroke-linejoin="round" stroke-linecap="round">
<path d="M301.1 1784.6L302.0 1785.0L301.5 1790.2L308.8 1790.2L308.8 1814.3L314.0 1798.4L314.7 1840.1L315.1 1845.8L316.6 1949.6L315.7 1845.8L320.5 1871.6L328.2 1854.4L336.0 1880.3" stroke-width="7"/>
<path d="M336.0 1880.6L336.5 1883.3L336.9 1886.1L337.3 1888.9L337.7 1891.8L338.0 1894.7L338.3 1897.7L338.6 1900.7L338.8 1903.8L339.1 1906.9L339.3 1910.0L339.6 1913.1L339.9 1916.2L340.2 1919.4L340.5 1922.5L340.9 1925.7L341.3 1928.9L341.8 1932.0L342.3 1935.2L342.8 1938.3L343.5 1941.4L344.1 1944.5L344.9 1947.5L345.7 1950.5L346.5 1953.5L347.5 1956.4L348.5 1959.3L349.6 1962.2L350.8 1964.9L352.1 1967.6L353.5 1970.3L355.0 1972.8L356.6 1975.3L358.3 1977.8L360.2 1980.1L362.2 1982.3L364.2 1984.4L366.4 1986.5L368.7 1988.4L371.1 1990.2L373.6 1991.8L376.2 1993.3L378.9 1994.7L381.7 1996.0L384.6 1997.1L387.5 1998.0L390.6 1998.8L393.8 1999.3L397.0 1999.8L400.3 2000.0" stroke-width="6.8"/>
<path d="M400.0 1999.9L398.1 2001.1L456.3 2001.1L476.5 1998.3L482.8 2003.9L489.2 1976.8L499.3 1982.4L603.0 1976.8L678.9 1970.5L704.2 1968.0L719.4 1963.4L719.0 1963.4L724.0 1966.7L735.4 1982.4L826.5 1982.4L953.0 1985.4L988.4 1987.4L1003.6 1991.0L1100.0 1991.7L1100.6 1992.0L1120.8 1993.3L1136.0 2001.3L1227.1 2001.3L1252.4 2000.6" stroke-width="6.4"/>
<path d="M1252.5 2001.3L1256.5 2001.1L1260.6 2000.9L1264.7 2000.6L1268.8 2000.4L1273.0 2000.2L1277.1 2000.0L1281.3 1999.8L1285.5 1999.5L1289.7 1999.3L1293.9 1999.0L1298.1 1998.7L1302.3 1998.4L1306.5 1998.0L1310.7 1997.6L1314.9 1997.1L1319.1 1996.5L1323.2 1995.9L1327.3 1995.3L1331.5 1994.5L1335.5 1993.7L1339.6 1992.8L1343.6 1991.8L1347.6 1990.7L1351.5 1989.5L1355.4 1988.1L1359.3 1986.7L1363.1 1985.2L1366.8 1983.5L1370.5 1981.7L1374.2 1979.8L1377.7 1977.7L1381.3 1975.5L1384.7 1973.1L1388.1 1970.6L1391.4 1967.9L1394.6 1965.0L1397.7 1962.0" stroke-width="6.5"/>
<path d="M1397.8 1962.4L1405.4 1959.9L1407.3 1947.2L1409.8 1928.3L1412.3 1909.3L1413.3 1905.5L1415.5 1921.9L1419.3 1934.6L1425.6 1934.6L1428.1 1974.4L1430.7 1928.3L1432.6 1910.5L1438.3 1912.4L1440.8 1903.0L1445.8 1896.6L1452.2 1891.6L1459.8 1888.7" stroke-width="6.8"/>
</g>
<g class="curve c45_09" fill="none" stroke="#0000ff" stroke-linejoin="round" stroke-linecap="round">
<path d="M306.3 1762.2L307.1 1762.7L306.7 1769.1L310.1 1769.6L314.0 1762.7L314.0 1794.5L318.9 1785.5L319.6 1798.8L319.8 1840.1L320.9 1845.8L321.7 1950.0L321.1 1845.8L324.8 1863.0L331.6 1845.8L338.5 1863.0" stroke-width="7"/>
<path d="M338.7 1863.4L338.8 1866.3L339.0 1869.1L339.1 1872.0L339.3 1875.0L339.4 1877.9L339.6 1880.9L339.8 1883.9L340.0 1886.9L340.2 1889.9L340.5 1893.0L340.7 1896.1L341.0 1899.1L341.3 1902.2L341.7 1905.3L342.0 1908.4L342.4 1911.5L342.8 1914.7L343.2 1917.8L343.6 1920.9L344.1 1924.0L344.6 1927.1L345.1 1930.2L345.7 1933.3L346.3 1936.4L346.9 1939.4L347.5 1942.5L348.2 1945.5L348.9 1948.5L349.7 1951.5L350.5 1954.4L351.3 1957.4L352.2 1960.3L353.1 1963.2L354.1 1966.0L355.1 1968.8L356.1 1971.6L357.2 1974.3L358.4 1977.0L359.7 1979.5L361.1 1982.0L362.7 1984.4L364.4 1986.7L366.4 1988.8L368.5 1990.8L370.9 1992.6L373.5 1994.2L376.4 1995.7L379.4 1997.0L382.7 1998.0L385.9 1998.8L389.1 1999.4L392.2 1999.7" stroke-width="6.8"/>
<path d="M391.9 1999.5L398.1 2000.6L456.3 2000.6L461.3 1983.6L466.4 1986.7L501.8 1984.9L603.0 1977.3L723.2 1967.2L722.8 1967.2L736.7 1982.4L826.5 1982.4L953.0 1985.4L993.5 1987.2L1011.2 1990.7L1100.0 1991.7L1115.8 1992.0L1136.0 1993.8L1151.2 2001.9L1227.1 2001.3L1252.4 2000.6" stroke-width="6.4"/>
<path d="M1252.4 2001.1L1256.5 2000.8L1260.7 2000.5L1264.8 2000.2L1269.0 2000.0L1273.2 1999.7L1277.4 1999.5L1281.6 1999.2L1285.9 1999.0L1290.1 1998.7L1294.3 1998.4L1298.6 1998.0L1302.8 1997.6L1307.0 1997.2L1311.2 1996.7L1315.4 1996.1L1319.6 1995.5L1323.7 1994.8L1327.9 1994.0L1332.0 1993.2L1336.0 1992.2L1340.0 1991.1L1344.0 1989.9L1348.0 1988.6L1351.8 1987.2L1355.7 1985.7L1359.5 1984.0L1363.2 1982.1L1366.8 1980.2L1370.4 1978.1L1374.0 1975.9L1377.4 1973.5L1380.8 1971.0L1384.1 1968.4L1387.3 1965.6L1390.5 1962.7L1393.5 1959.7" stroke-width="6.5"/>
<path d="M1394.0 1960.5L1402.8 1957.3L1405.4 1940.9L1406.6 1928.3L1409.2 1903.0L1410.4 1896.0L1412.3 1911.8L1415.5 1928.3L1421.8 1928.3L1423.7 1974.4L1425.6 1928.3L1427.5 1908.0L1433.8 1906.1L1435.7 1895.4L1441.4 1887.8L1447.7 1883.3L1454.1 1881.8" stroke-width="6.8"/>
</g>
<g class="curve c46_09" fill="none" stroke="#000000" stroke-linejoin="round" stroke-linecap="round">
<path d="M311.8 1745.0L312.7 1745.4L312.3 1751.5L319.2 1751.9L319.2 1778.6L324.8 1777.7L324.9 1840.1L326.9 1845.8L327.2 1948.7L326.5 1845.8L328.2 1845.8L331.6 1803.6L334.4 1718.3L335.1 1803.6L338.5 1829.4L338.5 1845.8L340.3 1863.0" stroke-width="7"/>
<path d="M339.9 1863.2L340.6 1866.2L341.3 1869.1L342.0 1872.1L342.6 1875.1L343.3 1878.1L343.9 1881.1L344.5 1884.0L345.1 1887.0L345.7 1890.0L346.3 1893.0L346.8 1896.0L347.4 1899.0L347.9 1902.0L348.4 1905.0L348.9 1908.1L349.4 1911.1L349.9 1914.1L350.4 1917.1L350.9 1920.2L351.4 1923.2L351.8 1926.3L352.2 1929.3L352.7 1932.4L353.1 1935.5L353.5 1938.5L353.9 1941.6L354.3 1944.7L354.7 1947.8L355.1 1950.9L355.5 1954.1L355.9 1957.2L356.3 1960.3L356.7 1963.3L357.3 1966.4L357.8 1969.4L358.5 1972.3L359.3 1975.2L360.2 1978.0L361.2 1980.8L362.3 1983.4L363.6 1986.0L365.1 1988.4L366.8 1990.8L368.6 1993.0L370.7 1995.1L373.0 1997.0L375.6 1998.8L378.4 2000.4" stroke-width="6.8"/>
<path d="M379.0 1999.5L398.1 2000.1L413.3 1999.6L423.4 1998.3L433.5 1999.8L437.3 1990.2L501.8 1985.2L603.0 1977.6L724.4 1968.0L724.0 1968.0L738.0 1982.6L826.5 1982.4L953.0 1985.4L998.5 1987.2L1016.3 1990.5L1100.0 1991.7L1125.9 1992.0L1151.2 1993.3L1166.4 2001.9L1227.1 2001.3L1252.4 2000.6" stroke-width="6.4"/>
<path d="M1252.4 2001.0L1256.5 2000.5L1260.5 2000.0L1264.6 1999.6L1268.7 1999.3L1272.8 1999.0L1277.0 1998.7L1281.2 1998.4L1285.3 1998.1L1289.5 1997.8L1293.7 1997.5L1297.9 1997.2L1302.0 1996.8L1306.2 1996.4L1310.3 1996.0L1314.5 1995.4L1318.6 1994.8L1322.6 1994.1L1326.7 1993.4L1330.7 1992.5L1334.7 1991.5L1338.6 1990.4L1342.5 1989.1L1346.3 1987.7L1350.1 1986.1L1353.8 1984.4L1357.4 1982.6L1361.0 1980.5L1364.5 1978.3L1367.9 1976.0L1371.3 1973.6L1374.6 1971.1L1377.7 1968.4L1380.8 1965.7L1383.8 1963.0L1386.7 1960.2L1389.5 1957.5" stroke-width="6.5"/>
<path d="M1390.2 1958.0L1399.0 1956.1L1400.9 1940.9L1402.2 1921.9L1404.7 1890.3L1405.7 1888.4L1407.9 1903.0L1410.4 1921.9L1416.7 1921.9L1418.6 1974.4L1420.5 1928.3L1422.4 1905.5L1428.8 1901.7L1430.7 1890.3L1435.1 1882.7L1441.4 1877.7L1447.7 1876.7" stroke-width="6.8"/>
</g>
<g class="curve c47_09" fill="none" stroke="#00ff00" stroke-linejoin="round" stroke-linecap="round">
<path d="M318.9 1736.8L319.8 1737.3L319.2 1744.6L325.4 1745.9L325.4 1771.7L329.1 1732.1L329.9 1777.7L331.0 1840.1L331.6 1845.8L333.2 1948.7L332.7 1845.8L332.9 1816.5L340.3 1807.9L341.3 1693.5L342.4 1769.1L343.3 1845.8" stroke-width="7"/>
<path d="M342.9 1845.9L343.9 1848.9L344.8 1851.8L345.7 1854.7L346.5 1857.7L347.3 1860.6L348.1 1863.6L348.8 1866.6L349.5 1869.6L350.2 1872.6L350.9 1875.6L351.5 1878.6L352.1 1881.6L352.6 1884.6L353.2 1887.7L353.7 1890.7L354.2 1893.7L354.7 1896.8L355.1 1899.8L355.5 1902.9L355.9 1905.9L356.3 1909.0L356.7 1912.1L357.0 1915.1L357.4 1918.2L357.7 1921.3L358.0 1924.3L358.3 1927.4L358.6 1930.5L358.8 1933.5L359.1 1936.6L359.3 1939.7L359.6 1942.7L359.8 1945.8L360.0 1948.9L360.3 1951.9L360.5 1955.0L360.7 1958.0L361.0 1961.1L361.3 1964.1L361.6 1967.2L361.9 1970.2L362.2 1973.2L362.6 1976.2L363.0 1979.3L363.4 1982.3L363.9 1985.3L364.4 1988.3L365.0 1991.2L365.6 1994.2L366.3 1997.2L367.1 2000.1" stroke-width="6.8"/>
<path d="M368.2 1999.6L369.0 1999.6L405.7 1998.8L413.3 1991.5L724.4 1969.2L725.3 1969.2L739.2 1983.1L826.5 1982.6L953.0 1985.7L1016.3 1987.7L1034.0 1990.7L1100.0 1991.7L1133.5 1992.0L1161.3 1990.7L1166.4 1991.5L1186.6 2001.3L1227.1 2001.3L1252.4 2000.6" stroke-width="6.4"/>
<path d="M1252.6 2000.6L1256.5 2000.1L1260.5 1999.7L1264.5 1999.3L1268.6 1998.9L1272.7 1998.6L1276.9 1998.2L1281.1 1997.8L1285.3 1997.4L1289.6 1997.0L1293.8 1996.6L1298.1 1996.1L1302.3 1995.6L1306.6 1995.0L1310.8 1994.4L1315.0 1993.7L1319.2 1992.9L1323.3 1992.1L1327.4 1991.1L1331.4 1990.1L1335.4 1988.9L1339.4 1987.6L1343.2 1986.2L1347.0 1984.7L1350.7 1983.0L1354.3 1981.2L1357.9 1979.2L1361.3 1977.1L1364.6 1974.8L1367.8 1972.3L1370.9 1969.6L1373.8 1966.7L1376.7 1963.6L1379.4 1960.3L1381.9 1956.8L1384.3 1953.1" stroke-width="6.5"/>
<path d="M1384.5 1953.6L1389.5 1948.5L1395.9 1945.3L1397.1 1928.3L1398.4 1896.6L1399.4 1882.7L1400.3 1896.6L1402.2 1915.6L1407.9 1915.6L1410.4 1921.9L1412.3 1974.4L1414.2 1921.9L1416.7 1896.6L1419.3 1886.5L1421.2 1895.4L1424.3 1897.9L1428.8 1885.9L1433.2 1878.9L1438.3 1874.5L1441.7 1873.5" stroke-width="6.8"/>
</g>
<path d="M326 2130V2115.2M326 1616V1630.8M465 2130V2115.2M465 1616V1630.8M604 2130V2115.2M604 1616V1630.8M742 2130V2115.2M742 1616V1630.8M880 2130V2115.2M880 1616V1630.8M1019 2130V2115.2M1019 1616V1630.8M1158 2130V2115.2M1158 1616V1630.8M1296 2130V2115.2M1296 1616V1630.8M1434 2130V2115.2M1434 1616V1630.8M188 2002H204.2M1573 2002H1556.8M188 1873H204.2M1573 1873H1556.8M188 1744H204.2M1573 1744H1556.8" stroke="#262626" stroke-width="6" fill="none" shape-rendering="crispEdges"/>
<rect x="188" y="1616" width="1385" height="514" fill="none" stroke="#262626" stroke-width="6" shape-rendering="crispEdges"/>
<text id="t35" transform="translate(159.73 2182.21) scale(0.9550 1)" font-size="55.5" fill="#262626" stroke="#262626">-25</text>
<text id="t36" transform="translate(298.20 2182.21) scale(0.9550 1)" font-size="55.5" fill="#262626" stroke="#262626">-20</text>
<text id="t37" transform="translate(436.73 2182.21) scale(0.9550 1)" font-size="55.5" fill="#262626" stroke="#262626">-15</text>
<text id="t38" transform="translate(575.20 2182.21) scale(0.9550 1)" font-size="55.5" fill="#262626" stroke="#262626">-10</text>
<text id="t39" transform="translate(726.98 2182.21) scale(0.9550 1)" font-size="55.5" fill="#262626" stroke="#262626">-5</text>
<text id="t40" transform="translate(874.25 2182.21) scale(0.9550 1)" font-size="55.5" fill="#262626" stroke="#262626">0</text>
<text id="t41" transform="translate(1012.24 2182.21) scale(0.9550 1)" font-size="55.5" fill="#262626" stroke="#262626">5</text>
<text id="t42" transform="translate(1136.68 2182.21) scale(0.9550 1)" font-size="55.5" fill="#262626" stroke="#262626">10</text>
<text id="t43" transform="translate(1275.20 2182.21) scale(0.9550 1)" font-size="55.5" fill="#262626" stroke="#262626">15</text>
<text id="t44" transform="translate(1414.84 2182.21) scale(0.9550 1)" font-size="55.5" fill="#262626" stroke="#262626">20</text>
<text id="t45" transform="translate(1553.37 2182.21) scale(0.9550 1)" font-size="55.5" fill="#262626" stroke="#262626">25</text>
<text id="t46" transform="translate(95.60 2156.16) scale(0.9550 1)" font-size="55.5" fill="#262626" stroke="#262626">-0.5</text>
<text id="t47" transform="translate(147.25 2027.11) scale(0.9550 1)" font-size="55.5" fill="#262626" stroke="#262626">0</text>
<text id="t48" transform="translate(110.40 1898.16) scale(0.9550 1)" font-size="55.5" fill="#262626" stroke="#262626">0.5</text>
<text id="t49" transform="translate(147.61 1770.05) scale(0.9550 1)" font-size="55.5" fill="#262626" stroke="#262626">1</text>
<text id="t50" transform="translate(111.58 1642.16) scale(0.9550 1)" font-size="55.5" fill="#262626" stroke="#262626">1.5</text>
</g>
<text id="t51" transform="translate(815.40 987.00)" fill="#000" stroke="#000"><tspan x="-0.57" y="0.00" font-size="56.5" textLength="32.73" lengthAdjust="spacingAndGlyphs" stroke-width="0.3" font-style="italic">Z</tspan><tspan x="29.74" y="7.50" font-size="33" textLength="15.22" lengthAdjust="spacingAndGlyphs" stroke-width="0.2" font-style="italic">c</tspan><tspan x="44.80" y="0.00" font-size="59" textLength="15.20" lengthAdjust="spacingAndGlyphs" stroke-width="1.2" stroke="#fff">/</tspan><tspan x="59.85" y="0.00" font-size="55" textLength="84.90" lengthAdjust="spacingAndGlyphs" stroke-width="0.6">mm</tspan></text>
<text id="t52" transform="translate(811.40 1609.80)" fill="#000" stroke="#000"><tspan x="-0.57" y="0.00" font-size="56.5" textLength="32.73" lengthAdjust="spacingAndGlyphs" stroke-width="0.3" font-style="italic">Z</tspan><tspan x="29.74" y="7.50" font-size="33" textLength="15.22" lengthAdjust="spacingAndGlyphs" stroke-width="0.2" font-style="italic">c</tspan><tspan x="44.80" y="0.00" font-size="59" textLength="15.20" lengthAdjust="spacingAndGlyphs" stroke-width="1.2" stroke="#fff">/</tspan><tspan x="59.85" y="0.00" font-size="55" textLength="84.90" lengthAdjust="spacingAndGlyphs" stroke-width="0.6">mm</tspan></text>
<text id="t53" transform="translate(815.20 2225.00)" fill="#000" stroke="#000"><tspan x="-0.57" y="0.00" font-size="56.5" textLength="32.73" lengthAdjust="spacingAndGlyphs" stroke-width="0.3" font-style="italic">Z</tspan><tspan x="29.74" y="7.50" font-size="33" textLength="15.22" lengthAdjust="spacingAndGlyphs" stroke-width="0.2" font-style="italic">c</tspan><tspan x="44.80" y="0.00" font-size="59" textLength="15.20" lengthAdjust="spacingAndGlyphs" stroke-width="1.2" stroke="#fff">/</tspan><tspan x="59.85" y="0.00" font-size="55" textLength="84.90" lengthAdjust="spacingAndGlyphs" stroke-width="0.6">mm</tspan></text>
<text id="t54" transform="translate(82.00 570.20) rotate(-90)" fill="#000" stroke="#000"><tspan x="-2.84" y="0.00" font-size="55" textLength="29.14" lengthAdjust="spacingAndGlyphs" stroke-width="0.3" font-style="italic">Y</tspan><tspan x="26.91" y="7.50" font-size="33" textLength="15.78" lengthAdjust="spacingAndGlyphs" stroke-width="0.2" font-style="italic">c</tspan><tspan font-size="20"> </tspan><tspan x="50.60" y="0.00" font-size="59" textLength="17.00" lengthAdjust="spacingAndGlyphs" stroke-width="1.2" stroke="#fff">/</tspan><tspan x="65.24" y="0.00" font-size="55" textLength="86.23" lengthAdjust="spacingAndGlyphs" stroke-width="0.6">mm</tspan></text>
<g id="legend">
<rect x="1328" y="102" width="229" height="206" fill="#fff" stroke="#262626" stroke-width="5.5"/>
<line x1="1342" x2="1394.5" y1="121.7" y2="121.7" stroke="#ff0000" stroke-width="6.5" stroke-linecap="round"/>
<text id="t55" transform="translate(1412.19 141.80) scale(0.9691 1)" font-size="56" fill="#000" stroke="#000">44.09°</text>
<line x1="1342" x2="1394.5" y1="164.8" y2="164.8" stroke="#0000ff" stroke-width="6.5" stroke-linecap="round"/>
<text id="t56" transform="translate(1412.19 191.40) scale(0.9691 1)" font-size="56" fill="#000" stroke="#000">45.09°</text>
<line x1="1342" x2="1394.5" y1="222.7" y2="222.7" stroke="#000000" stroke-width="6.5" stroke-linecap="round"/>
<text id="t57" transform="translate(1412.19 242.80) scale(0.9691 1)" font-size="56" fill="#000" stroke="#000">46.09°</text>
<line x1="1342" x2="1394.5" y1="273" y2="273" stroke="#00ff00" stroke-width="6.5" stroke-linecap="round"/>
<text id="t58" transform="translate(1412.19 294.00) scale(0.9691 1)" font-size="56" fill="#000" stroke="#000">47.09°</text>
</g>
<text id="t59" transform="translate(1379.09 1085.00) scale(0.9851 1)" font-size="57" fill="#000" stroke="#000">Slope</text>
<text id="t60" transform="translate(1343.42 1685.70) scale(0.9439 1)" font-size="57.5" fill="#000" stroke="#000">Curvature</text>
<text id="t61" transform="translate(776.20 2391.00)" font-size="85" fill="#000" stroke="#000">(<tspan font-weight="bold">e</tspan>)</text>
</svg>
</body>
</html>
